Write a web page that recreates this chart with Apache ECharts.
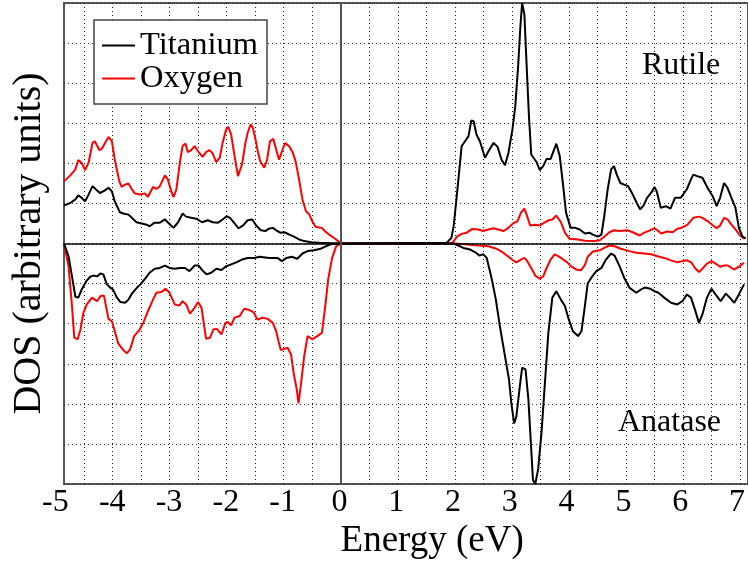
<!DOCTYPE html>
<html>
<head>
<meta charset="utf-8">
<title>TiO2 DOS</title>
<script src="https://cdn.jsdelivr.net/npm/echarts@6/dist/echarts.min.js"></script>
<style>
  html, body { margin: 0; padding: 0; background: #fff; }
  #chart { width: 748px; height: 565px; }
</style>
</head>
<body>
<div id="chart"></div>
<script>
// Projected density of states, [energy (eV), DOS]; rutile plotted up, anatase plotted down
const rutileTi = [
  [-4.85,0.95],[-4.74,1.01],[-4.65,1.10],[-4.60,1.20],[-4.54,1.14],[-4.48,1.05],[-4.42,1.22],[-4.35,1.43],[-4.29,1.35],[-4.22,1.26],
  [-4.14,1.32],[-4.07,1.39],[-4.01,1.30],[-3.96,1.05],[-3.87,0.78],[-3.81,0.75],[-3.72,0.72],[-3.66,0.64],[-3.58,0.53],[-3.49,0.50],
  [-3.40,0.47],[-3.35,0.43],[-3.26,0.52],[-3.17,0.52],[-3.08,0.60],[-3.01,0.50],[-2.93,0.39],[-2.85,0.53],[-2.77,0.75],[-2.71,0.67],
  [-2.62,0.64],[-2.53,0.62],[-2.43,0.53],[-2.33,0.58],[-2.24,0.53],[-2.15,0.52],[-2.07,0.60],[-2.00,0.68],[-1.94,0.64],[-1.86,0.50],
  [-1.79,0.38],[-1.71,0.45],[-1.63,0.58],[-1.55,0.60],[-1.48,0.45],[-1.40,0.33],[-1.32,0.31],[-1.26,0.37],[-1.19,0.39],[-1.13,0.33],
  [-1.06,0.27],[-0.99,0.28],[-0.91,0.23],[-0.82,0.17],[-0.73,0.10],[-0.64,0.06],[-0.52,0.03],[-0.38,0.02],[-0.20,0.01],[0,0],
  [1.86,0.02],[1.94,0.14],[1.98,0.43],[2.04,1.26],[2.12,2.43],[2.18,2.55],[2.24,2.68],[2.29,3.07],[2.33,3.05],[2.38,2.72],
  [2.44,2.55],[2.53,2.14],[2.59,2.30],[2.68,2.51],[2.75,2.41],[2.82,2.09],[2.88,1.95],[2.94,2.26],[3.01,2.84],[3.06,3.42],
  [3.11,4.42],[3.15,5.42],[3.18,6.00],[3.22,5.71],[3.26,4.42],[3.30,3.17],[3.34,2.22],[3.43,2.04],[3.49,1.83],[3.55,1.93],
  [3.61,2.11],[3.68,2.11],[3.78,2.49],[3.84,2.18],[3.90,1.43],[3.95,0.77],[4.03,0.39],[4.11,0.39],[4.19,0.35],[4.28,0.25],
  [4.36,0.27],[4.42,0.22],[4.51,0.17],[4.57,0.22],[4.62,0.68],[4.68,1.35],[4.74,1.85],[4.79,1.93],[4.84,1.72],[4.90,1.51],
  [4.97,1.47],[5.04,1.43],[5.12,1.22],[5.19,1.01],[5.25,0.85],[5.31,0.95],[5.37,1.14],[5.45,1.28],[5.50,1.41],[5.54,1.30],
  [5.61,0.89],[5.70,0.93],[5.78,0.87],[5.86,1.14],[5.96,1.14],[6.07,1.36],[6.14,1.60],[6.18,1.72],[6.25,1.68],[6.34,1.64],
  [6.43,1.39],[6.52,1.18],[6.59,0.93],[6.65,1.14],[6.72,1.51],[6.78,1.39],[6.86,1.10],[6.92,0.89],[6.98,0.39],[7.04,0.18],[7.10,0.12]
];

const rutileO = [
  [-4.85,1.55],[-4.74,1.70],[-4.65,1.85],[-4.60,2.08],[-4.54,2.01],[-4.48,1.83],[-4.42,2.01],[-4.35,2.51],[-4.31,2.55],[-4.23,2.33],
  [-4.19,2.36],[-4.13,2.51],[-4.07,2.66],[-4.01,2.55],[-3.96,2.09],[-3.88,1.55],[-3.84,1.41],[-3.78,1.47],[-3.72,1.50],[-3.66,1.35],
  [-3.61,1.25],[-3.52,1.22],[-3.43,1.25],[-3.38,1.16],[-3.29,1.41],[-3.23,1.36],[-3.17,1.43],[-3.08,1.70],[-3.03,1.60],[-2.97,1.30],
  [-2.93,1.16],[-2.88,1.35],[-2.82,2.01],[-2.77,2.44],[-2.72,2.49],[-2.68,2.28],[-2.62,2.33],[-2.56,2.43],[-2.50,2.30],[-2.42,2.16],
  [-2.36,2.28],[-2.30,2.33],[-2.25,2.26],[-2.18,2.03],[-2.12,2.14],[-2.07,2.51],[-2.01,2.84],[-1.97,2.91],[-1.92,2.72],[-1.86,2.18],
  [-1.80,1.68],[-1.77,1.64],[-1.73,1.97],[-1.67,2.51],[-1.63,2.76],[-1.58,2.97],[-1.54,2.89],[-1.48,2.51],[-1.46,2.34],[-1.41,2.05],
  [-1.34,1.89],[-1.29,2.09],[-1.24,2.55],[-1.18,2.61],[-1.13,2.34],[-1.08,2.09],[-1.02,2.34],[-0.97,2.51],[-0.90,2.42],[-0.84,2.27],
  [-0.79,2.05],[-0.73,1.60],[-0.67,1.10],[-0.61,0.81],[-0.55,0.72],[-0.50,0.56],[-0.44,0.42],[-0.38,0.40],[-0.33,0.39],[-0.27,0.30],
  [-0.20,0.22],[-0.13,0.15],[-0.08,0.10],[0,0],
  [1.95,0],[2.04,0.17],[2.12,0.24],[2.21,0.27],[2.30,0.36],[2.41,0.35],[2.50,0.31],[2.59,0.35],[2.68,0.38],[2.76,0.35],
  [2.85,0.31],[2.94,0.39],[3.02,0.50],[3.10,0.56],[3.16,0.77],[3.22,0.87],[3.26,0.72],[3.32,0.45],[3.40,0.47],[3.49,0.45],
  [3.57,0.52],[3.65,0.58],[3.71,0.60],[3.78,0.70],[3.86,0.53],[3.93,0.27],[4.01,0.12],[4.16,0.10],[4.28,0.07],[4.45,0.06],
  [4.54,0.08],[4.62,0.17],[4.71,0.28],[4.79,0.33],[4.89,0.31],[5.02,0.33],[5.12,0.28],[5.24,0.20],[5.32,0.27],[5.41,0.32],
  [5.50,0.38],[5.55,0.33],[5.62,0.25],[5.72,0.30],[5.82,0.28],[5.90,0.37],[5.99,0.40],[6.08,0.47],[6.18,0.64],[6.28,0.67],
  [6.34,0.64],[6.43,0.56],[6.51,0.47],[6.59,0.38],[6.65,0.45],[6.72,0.64],[6.78,0.60],[6.85,0.47],[6.92,0.35],[7.00,0.20],[7.07,0.12]
];

const anataseTi = [
  [-4.85,0],[-4.83,-0.02],[-4.77,-0.32],[-4.71,-0.82],[-4.65,-1.33],[-4.60,-1.35],[-4.54,-1.15],[-4.46,-0.94],[-4.39,-0.83],[-4.34,-0.80],
  [-4.27,-0.82],[-4.21,-0.75],[-4.16,-0.77],[-4.10,-1.02],[-4.04,-1.10],[-3.99,-1.15],[-3.93,-1.33],[-3.86,-1.46],[-3.78,-1.48],[-3.72,-1.40],
  [-3.65,-1.23],[-3.57,-1.10],[-3.51,-1.02],[-3.43,-0.88],[-3.35,-0.73],[-3.26,-0.63],[-3.17,-0.61],[-3.08,-0.55],[-3.00,-0.61],[-2.91,-0.63],
  [-2.82,-0.61],[-2.73,-0.61],[-2.65,-0.69],[-2.56,-0.55],[-2.49,-0.55],[-2.43,-0.66],[-2.35,-0.77],[-2.27,-0.73],[-2.18,-0.63],[-2.09,-0.66],
  [-2.01,-0.57],[-1.92,-0.52],[-1.83,-0.47],[-1.73,-0.40],[-1.63,-0.36],[-1.51,-0.36],[-1.43,-0.33],[-1.25,-0.36],[-1.11,-0.36],[-1.03,-0.44],
  [-0.95,-0.36],[-0.86,-0.33],[-0.76,-0.38],[-0.67,-0.25],[-0.58,-0.19],[-0.47,-0.17],[-0.35,-0.13],[-0.26,-0.07],[-0.15,-0.01],[0,0],
  [1.98,0],[2.06,-0.05],[2.15,-0.11],[2.27,-0.15],[2.36,-0.22],[2.43,-0.30],[2.50,-0.27],[2.56,-0.36],[2.65,-0.90],[2.72,-1.40],
  [2.79,-2.06],[2.87,-2.73],[2.95,-3.39],[2.99,-3.97],[3.04,-4.49],[3.08,-4.31],[3.14,-3.56],[3.18,-3.10],[3.24,-3.14],[3.29,-3.89],
  [3.33,-4.89],[3.37,-5.90],[3.41,-6.00],[3.46,-5.64],[3.52,-4.72],[3.58,-3.47],[3.64,-2.23],[3.71,-1.35],[3.78,-1.19],[3.86,-1.40],
  [3.93,-1.56],[4.00,-1.90],[4.07,-2.19],[4.16,-2.31],[4.22,-2.19],[4.28,-1.56],[4.33,-1.00],[4.39,-0.86],[4.48,-0.69],[4.57,-0.61],
  [4.65,-0.40],[4.74,-0.25],[4.80,-0.30],[4.89,-0.57],[4.97,-0.86],[5.06,-1.10],[5.18,-1.23],[5.26,-1.15],[5.33,-1.10],[5.43,-1.13],
  [5.50,-1.19],[5.57,-1.23],[5.67,-1.35],[5.79,-1.48],[5.90,-1.52],[5.99,-1.44],[6.07,-1.27],[6.14,-1.35],[6.21,-1.65],[6.28,-1.98],
  [6.34,-1.77],[6.42,-1.35],[6.50,-1.13],[6.57,-1.27],[6.66,-1.44],[6.75,-1.25],[6.82,-1.35],[6.90,-1.48],[6.98,-1.27],[7.07,-1.02]
];

const anataseO = [
  [-4.85,0],[-4.83,-0.02],[-4.77,-0.57],[-4.71,-1.56],[-4.67,-2.35],[-4.61,-2.39],[-4.56,-2.14],[-4.51,-1.73],[-4.45,-1.52],[-4.36,-1.35],
  [-4.31,-1.40],[-4.27,-1.44],[-4.21,-1.31],[-4.15,-1.30],[-4.07,-1.88],[-4.01,-1.94],[-3.96,-2.19],[-3.90,-2.49],[-3.81,-2.66],[-3.75,-2.74],
  [-3.69,-2.64],[-3.62,-2.31],[-3.53,-2.16],[-3.46,-1.98],[-3.38,-1.69],[-3.29,-1.40],[-3.23,-1.23],[-3.14,-1.21],[-3.07,-1.13],[-3.00,-1.23],
  [-2.91,-1.52],[-2.83,-1.55],[-2.77,-1.44],[-2.71,-1.52],[-2.64,-1.75],[-2.56,-1.60],[-2.50,-1.46],[-2.44,-1.60],[-2.36,-2.38],[-2.29,-2.35],
  [-2.23,-2.14],[-2.17,-2.13],[-2.09,-2.27],[-2.02,-1.98],[-1.98,-1.96],[-1.92,-2.04],[-1.86,-1.85],[-1.77,-1.81],[-1.69,-1.63],[-1.60,-1.66],
  [-1.53,-1.71],[-1.46,-1.90],[-1.37,-1.85],[-1.28,-1.88],[-1.19,-1.98],[-1.13,-2.19],[-1.09,-2.44],[-1.05,-2.66],[-0.99,-2.63],[-0.93,-2.60],
  [-0.87,-2.77],[-0.82,-3.27],[-0.77,-3.64],[-0.74,-3.99],[-0.70,-3.56],[-0.64,-2.81],[-0.58,-2.31],[-0.50,-2.39],[-0.41,-2.31],[-0.33,-2.23],
  [-0.27,-1.56],[-0.22,-0.90],[-0.15,-0.36],[-0.08,-0.07],[0,0],
  [2.01,0],[2.18,-0.02],[2.41,-0.05],[2.59,-0.07],[2.73,-0.13],[2.85,-0.23],[2.94,-0.33],[3.02,-0.42],[3.08,-0.47],[3.16,-0.40],
  [3.22,-0.36],[3.27,-0.44],[3.34,-0.61],[3.41,-0.80],[3.49,-0.88],[3.55,-0.82],[3.61,-0.61],[3.68,-0.40],[3.75,-0.27],[3.82,-0.32],
  [3.90,-0.40],[3.97,-0.47],[4.04,-0.57],[4.13,-0.65],[4.21,-0.67],[4.28,-0.54],[4.33,-0.33],[4.42,-0.20],[4.54,-0.17],[4.62,-0.11],
  [4.71,-0.05],[4.80,-0.07],[4.91,-0.13],[5.06,-0.19],[5.18,-0.23],[5.32,-0.25],[5.44,-0.27],[5.55,-0.32],[5.67,-0.36],[5.79,-0.42],
  [5.90,-0.47],[5.99,-0.44],[6.07,-0.42],[6.15,-0.48],[6.22,-0.63],[6.28,-0.71],[6.34,-0.63],[6.42,-0.50],[6.50,-0.44],[6.57,-0.50],
  [6.65,-0.58],[6.72,-0.55],[6.79,-0.55],[6.89,-0.65],[6.98,-0.58],[7.07,-0.48]
];

const speciesNames = ['Titanium', 'Oxygen'];
const phaseNames = ['Rutile', 'Anatase'];

// Energy scale shared by three stacked grids:
//  0: data frame starting at -4.85 eV
//  1: integer tick labels starting at -5 eV
//  2: dotted half-eV grid lines starting at -4.5 eV
const PX_PER_EV = 57.3;
const frameLeft = 64, frameWidth = 687;
const eMin = -4.85, eMax = eMin + frameWidth / PX_PER_EV;
const labelMin = -5, gridMin = -4.5;
const leftAt = (e) => frameLeft + (e - eMin) * PX_PER_EV;
const widthFrom = (e) => (eMax - e) * PX_PER_EV;

const SERIF = '"Liberation Serif", "Times New Roman", "DejaVu Serif", serif';
const dottedH = { type: [1, 3], color: '#333', width: 1 };
const dottedV = { type: [1, 3], color: '#1a1a1a', width: 1 };
const plotTop = 3, plotHeight = 481;

const chart = echarts.init(document.getElementById('chart'), null, { renderer: 'canvas' });

function curve(name, data, color, extra) {
  return Object.assign({
    name: name,
    type: 'line',
    xAxisIndex: 0,
    yAxisIndex: 0,
    data: data,
    symbol: 'none',
    showSymbol: false,
    clip: true,
    lineStyle: { color: color, width: 2 },
    itemStyle: { color: color },
    emphasis: { disabled: true },
    animation: false
  }, extra || {});
}

const hiddenY = (i) => ({ gridIndex: i, type: 'value', min: -6, max: 6, show: false });

const option = {
  backgroundColor: '#ffffff',
  animation: false,
  grid: [
    { left: frameLeft, top: plotTop, width: frameWidth, height: plotHeight, show: true,
      borderColor: '#555', borderWidth: 2, backgroundColor: 'transparent' },
    { left: leftAt(labelMin), top: plotTop, width: widthFrom(labelMin), height: plotHeight, show: false },
    { left: leftAt(gridMin), top: plotTop, width: widthFrom(gridMin), height: plotHeight, show: false }
  ],
  xAxis: [
    { gridIndex: 0, type: 'value', min: eMin, max: eMax,
      axisLine: { show: false }, axisTick: { show: false },
      axisLabel: { show: false }, splitLine: { show: false } },
    { gridIndex: 1, type: 'value', min: labelMin, max: eMax, interval: 1,
      axisLine: { show: false }, axisTick: { show: false },
      axisLabel: {
        fontFamily: SERIF, fontSize: 32, color: '#000', margin: 9,
        formatter: function (v) {
          return Math.abs(v - Math.round(v)) < 1e-6 ? String(Math.round(v)) : '';
        }
      },
      splitLine: { show: false },
      name: 'Energy (eV)', nameLocation: 'middle', nameGap: 36,
      nameTextStyle: { fontFamily: SERIF, fontSize: 37, color: '#000', padding: [0, 0, 0, 64] } },
    { gridIndex: 2, type: 'value', min: gridMin, max: eMax, interval: 0.5,
      axisLine: { show: false }, axisTick: { show: false }, axisLabel: { show: false },
      splitLine: { show: true, lineStyle: dottedV } }
  ],
  yAxis: [
    { gridIndex: 0, type: 'value', min: -6, max: 6, interval: 1,
      axisLine: { show: false }, axisTick: { show: false }, axisLabel: { show: false },
      splitLine: { show: true, lineStyle: dottedH },
      name: 'DOS (arbitrary units)', nameLocation: 'middle', nameGap: 15,
      nameTextStyle: { fontFamily: SERIF, fontSize: 40, color: '#000' } },
    hiddenY(1),
    hiddenY(2)
  ],
  legend: {
    orient: 'vertical', left: 94, top: 20,
    padding: [9, 9, 9, 8], itemGap: 0, itemWidth: 33, itemHeight: 2,
    icon: 'rect',
    data: speciesNames,
    backgroundColor: '#fff', borderColor: '#444', borderWidth: 1.5, borderRadius: 0,
    textStyle: { fontFamily: SERIF, fontSize: 32.5, color: '#000', lineHeight: 32 },
    selectedMode: false
  },
  series: [
    curve(speciesNames[1], rutileO, '#ff0000'),
    curve(speciesNames[1], anataseO, '#ff0000'),
    curve(speciesNames[0], rutileTi, '#000000'),
    curve(speciesNames[0], anataseTi, '#000000', {
      markLine: {
        silent: true, symbol: 'none', label: { show: false }, animation: false,
        data: [
          { yAxis: 0, lineStyle: { color: '#000', width: 1.5, type: 'solid' } },
          { xAxis: 0, lineStyle: { color: '#555', width: 2, type: 'solid' } }
        ]
      }
    })
  ],
  graphic: [
    { type: 'text', left: 642, top: 50, silent: true,
      style: { text: phaseNames[0], font: '32px ' + SERIF, fill: '#000' } },
    { type: 'text', left: 618, top: 407, silent: true,
      style: { text: phaseNames[1], font: '32px ' + SERIF, fill: '#000' } }
  ]
};

chart.setOption(option);
</script>
</body>
</html>
